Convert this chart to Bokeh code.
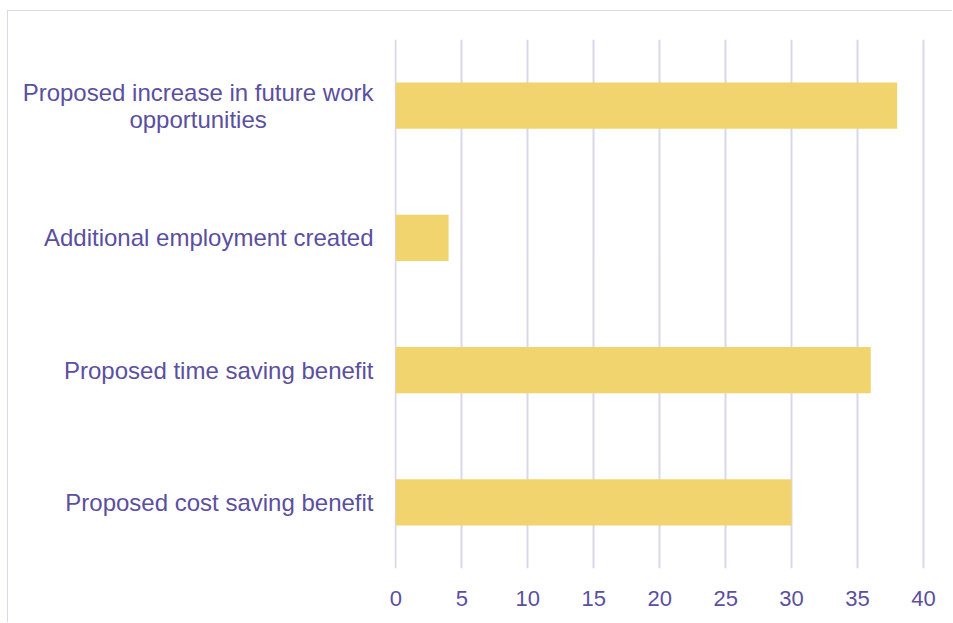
from bokeh.plotting import figure
from bokeh.embed import file_html
from bokeh.resources import INLINE
from bokeh.models import ColumnDataSource, FixedTicker

categories = [
    "Proposed cost saving benefit",
    "Proposed time saving benefit",
    "Additional employment created",
    "Proposed increase in future work\nopportunities" + "\u00a0" * 16,
]
values = [30, 36, 4, 38]
ticks = [0, 5, 10, 15, 20, 25, 30, 35, 40]

TEXT = "#5B4FA0"
GRID = "#DAD7EA"
BAR = "#F2D46E"

src = ColumnDataSource(dict(cat=categories, val=values))

p = figure(
    y_range=categories,
    x_range=(-0.1, 40.15),
    width=945,
    height=612,
    output_backend="svg",
    toolbar_location=None,
    min_border_left=386,
    min_border_right=28,
    min_border_top=28,
    min_border_bottom=55,
)
p.margin = (10, 0, 0, 7)
p.styles = {"border-left": f"1px solid {GRID}", "border-top": f"1px solid {GRID}"}

p.hbar(y="cat", right="val", left=0, height=0.35, source=src, color=BAR, line_color=None)

p.outline_line_color = None
p.ygrid.grid_line_color = None
p.xgrid.grid_line_color = GRID
p.xgrid.grid_line_width = 2
p.xaxis.ticker = FixedTicker(ticks=ticks)

for ax in (p.xaxis, p.yaxis):
    ax.axis_line_color = None
    ax.major_tick_line_color = None
    ax.minor_tick_line_color = None
    ax.major_label_text_color = TEXT
    ax.major_label_text_font = "Liberation Sans"

p.yaxis.major_label_text_font_size = "24px"
p.yaxis.major_label_text_line_height = 1.0
p.xaxis.major_label_text_font_size = "22px"
p.yaxis.major_label_standoff = 15
p.xaxis.major_label_standoff = 16

open("out.html", "w").write(file_html(p, INLINE))
